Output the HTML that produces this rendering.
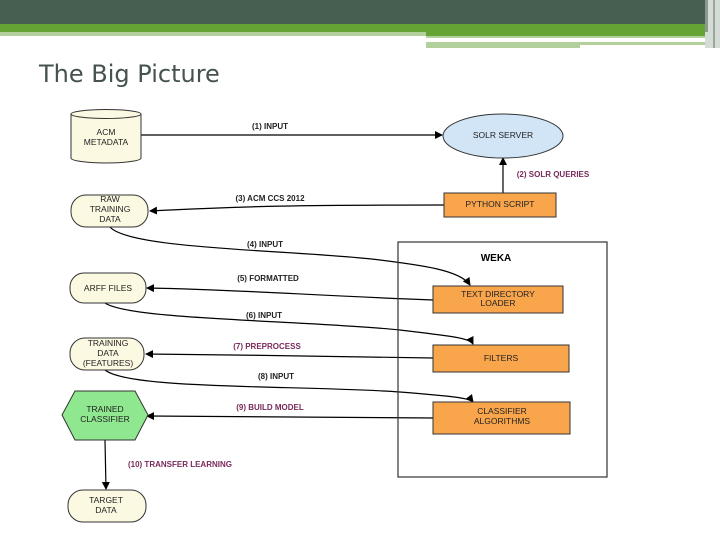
<!DOCTYPE html>
<html><head><meta charset="utf-8"><style>
html,body{margin:0;padding:0;background:#fff;width:720px;height:540px;overflow:hidden}
</style></head><body>
<svg width="720" height="540" viewBox="0 0 720 540" xmlns="http://www.w3.org/2000/svg" font-family="Liberation Sans, sans-serif">
<defs>
<marker id="a" markerWidth="8" markerHeight="8" refX="7" refY="4" orient="auto" markerUnits="userSpaceOnUse"><path d="M0,0 L8,4 L0,8z" fill="#000"/></marker>
</defs>
<!-- header -->
<rect x="0" y="0" width="720" height="24" fill="#465f50"/>
<rect x="0" y="24" width="705" height="8" fill="#64a435"/>
<rect x="0" y="32" width="426" height="4" fill="#b3d09c"/>
<rect x="426" y="32" width="279" height="4" fill="#64a435"/>
<rect x="426" y="36" width="279" height="2" fill="#b3d09c"/>
<rect x="426" y="42" width="154" height="6" fill="#b3d09c"/>
<rect x="580" y="42" width="125" height="3" fill="#b3d09c"/>
<rect x="705" y="0" width="15" height="48" fill="#d5dcd6"/>
<rect x="705" y="0" width="3" height="32" fill="#8a9a8e"/>
<rect x="713" y="0" width="2" height="48" fill="#9aa69c"/>
<text x="39" y="82" font-size="24" fill="#46534c" font-family="DejaVu Sans, Liberation Sans, sans-serif">The Big Picture</text>

<g stroke="#000" stroke-width="1.2" fill="none">
<path d="M141,135 L442,135" marker-end="url(#a)"/>
<path d="M503,193 L503,158" marker-end="url(#a)"/>
<path d="M444,205 C300,205 250,206 150,211" marker-end="url(#a)"/>
<path d="M110,227 C130,250 300,250 380,260 C420,265 460,270 470,285" marker-end="url(#a)"/>
<path d="M433,300 C300,295 250,290 147,288" marker-end="url(#a)"/>
<path d="M105,303 C130,320 300,320 400,330 C450,336 470,338 473,344" marker-end="url(#a)"/>
<path d="M433,358 C300,356 250,355 146,354" marker-end="url(#a)"/>
<path d="M105,370 C130,390 300,385 400,392 C450,396 470,398 473,402" marker-end="url(#a)"/>
<path d="M433,418 L147,416" marker-end="url(#a)"/>
<path d="M105,440 L106,489" marker-end="url(#a)"/>
</g>

<rect x="398" y="242" width="209" height="235" fill="none" stroke="#333" stroke-width="1.2"/>
<text x="496" y="261" font-size="10" font-weight="bold" text-anchor="middle">WEKA</text>

<g stroke="#333" stroke-width="1">
<path d="M71,114 L71,158 A35,5 0 0 0 141,158 L141,114" fill="#fcf9e2"/>
<ellipse cx="106" cy="114" rx="35" ry="4.5" fill="#fcf9e2"/>
<ellipse cx="503" cy="136" rx="60" ry="22" fill="#d2e5f7"/>
<rect x="444" y="193" width="112" height="24" fill="#f9a54c"/>
<rect x="71" y="195" width="77" height="32" rx="15" fill="#fcf9e2"/>
<rect x="70" y="273" width="76" height="30" rx="14" fill="#fcf9e2"/>
<rect x="433" y="286" width="130" height="27" fill="#f9a54c"/>
<rect x="70" y="338" width="74" height="32" rx="15" fill="#fcf9e2"/>
<rect x="433" y="345" width="136" height="27" fill="#f9a54c"/>
<polygon points="62,415 75,391 135,391 148,415 135,440 75,440" fill="#8fe88f"/>
<rect x="433" y="402" width="137" height="32" fill="#f9a54c"/>
<rect x="68" y="490" width="78" height="32" rx="15" fill="#fcf9e2"/>
</g>

<g font-size="8.5" fill="#222" text-anchor="middle">
<text x="106" y="135">ACM</text><text x="106" y="145">METADATA</text>
<text x="503" y="138">SOLR SERVER</text>
<text x="500" y="207">PYTHON SCRIPT</text>
<text x="110" y="202">RAW</text><text x="110" y="212">TRAINING</text><text x="110" y="222">DATA</text>
<text x="108" y="291">ARFF FILES</text>
<text x="498" y="297">TEXT DIRECTORY</text><text x="498" y="306">LOADER</text>
<text x="108" y="346">TRAINING</text><text x="108" y="356">DATA</text><text x="108" y="366">(FEATURES)</text>
<text x="501" y="361">FILTERS</text>
<text x="105" y="412">TRAINED</text><text x="105" y="422">CLASSIFIER</text>
<text x="502" y="414">CLASSIFIER</text><text x="502" y="424">ALGORITHMS</text>
<text x="106" y="503">TARGET</text><text x="106" y="513">DATA</text>
</g>

<g font-size="8" text-anchor="middle" font-weight="bold">
<text x="270" y="129" fill="#222">(1) INPUT</text>
<text x="553" y="177" fill="#7a2a5a">(2) SOLR QUERIES</text>
<text x="270" y="201" fill="#222">(3) ACM CCS 2012</text>
<text x="265" y="247" fill="#222">(4) INPUT</text>
<text x="268" y="281" fill="#222">(5) FORMATTED</text>
<text x="264" y="318" fill="#222">(6) INPUT</text>
<text x="267" y="349" fill="#7a2a5a">(7)  PREPROCESS</text>
<text x="276" y="379" fill="#222">(8) INPUT</text>
<text x="270" y="410" fill="#7a2a5a">(9) BUILD MODEL</text>
<text x="180" y="467" fill="#7a2a5a">(10) TRANSFER LEARNING</text>
</g>
</svg>
</body></html>
